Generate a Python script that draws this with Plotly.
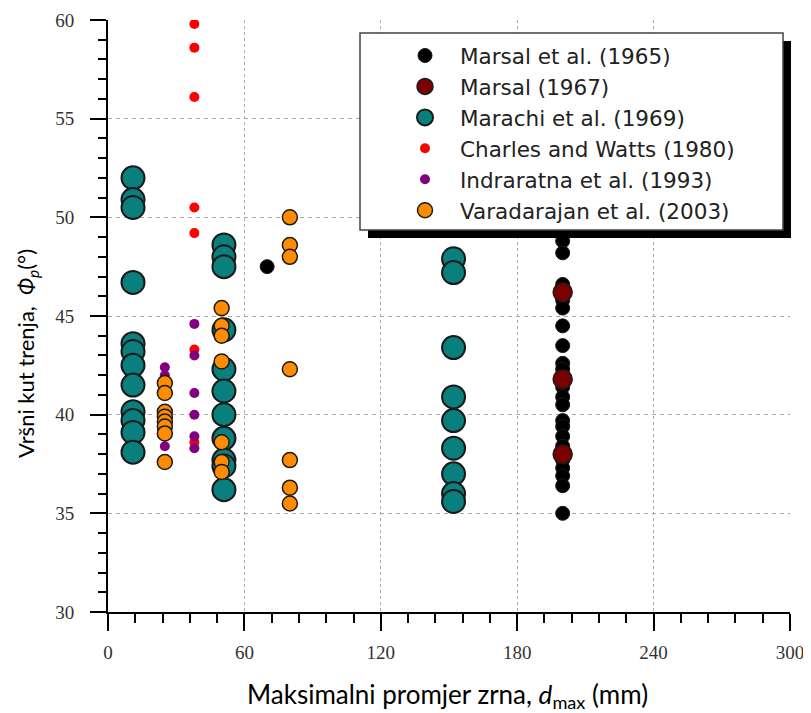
import plotly.graph_objects as go

# ---------------- data ----------------
marsal65_x = [70] + [200] * 21
marsal65_y = [47.5, 48.8, 48.2, 46.6, 45.8, 45.4, 44.5, 43.5, 42.6, 42.3, 41.4,
              40.9, 40.5, 39.7, 39.4, 38.9, 38.4, 37.7, 37.3, 36.9, 36.4, 35.0]

marsal67_x = [200, 200, 200]
marsal67_y = [46.2, 41.8, 38.0]

marachi_x = [11] * 12 + [51] * 11 + [152] * 9
marachi_y = [52.0, 50.9, 50.5, 46.7, 43.6, 43.2, 42.5, 41.5, 40.15, 39.7, 39.1, 38.1,
             48.6, 48.0, 47.5, 44.3, 42.3, 41.2, 40.0, 38.8, 37.7, 37.4, 36.2,
             47.9, 47.2, 43.4, 40.9, 39.7, 38.3, 37.0, 36.0, 35.6]

charles_x = [38] * 7
charles_y = [59.8, 58.6, 56.1, 50.5, 49.2, 43.3, 38.6]

indraratna_x = [38] * 6 + [25] * 3
indraratna_y = [44.6, 43.0, 41.1, 40.0, 38.9, 38.3, 42.4, 42.0, 38.4]

varadarajan_x = [25] * 8 + [50] * 7 + [80] * 7
varadarajan_y = [41.6, 41.1, 40.15, 39.9, 39.65, 39.4, 39.05, 37.6,
                 45.4, 44.5, 44.0, 42.7, 38.6, 37.6, 37.1,
                 50.0, 48.6, 48.0, 42.3, 37.7, 36.3, 35.5]

series_names = ["Marsal et al. (1965)", "Marsal (1967)", "Marachi et al. (1969)",
                "Charles and Watts (1980)", "Indraratna et al. (1993)",
                "Varadarajan et al. (2003)"]

x_ticks = [0, 60, 120, 180, 240, 300]
y_ticks = [30, 35, 40, 45, 50, 55, 60]

# ---------------- styling ----------------
OUT = "#1a1a1a"
styles = [
    dict(color="#000000", size=14, line=dict(color=OUT, width=1)),
    dict(color="#7b0000", size=19, line=dict(color=OUT, width=1.5)),
    dict(color="#0a807e", size=23, line=dict(color=OUT, width=2)),
    dict(color="#ff0000", size=10, line=dict(width=0)),
    dict(color="#800080", size=10, line=dict(width=0)),
    dict(color="#ff8c00", size=15, line=dict(color=OUT, width=1.5)),
]
xs = [marsal65_x, marsal67_x, marachi_x, charles_x, indraratna_x, varadarajan_x]
ys = [marsal65_y, marsal67_y, marachi_y, charles_y, indraratna_y, varadarajan_y]

fig = go.Figure()
for name, x, y, st in zip(series_names, xs, ys, styles):
    fig.add_trace(go.Scatter(x=x, y=y, mode="markers", name=name,
                             marker=dict(symbol="circle", **st)))

# page body has an 8px default margin -> work in screen pixels, subtract offset
OFF = 8
W, H = 811 - OFF, 713 - OFF
L, T = 108 - OFF, 20 - OFF
R = W - (790 - OFF)
B = H - (612 - OFF)
pw, ph = W - L - R, H - T - B


def px_x(p):
    return (p - OFF - L) / pw


def px_y(p):
    return (H - B - (p - OFF)) / ph


tickfont = dict(family="Liberation Serif", size=19, color="#333333")

common = dict(showline=True, linewidth=2, linecolor="black", zeroline=False,
              tickcolor="black", tickwidth=2)

fig.update_layout(
    width=W, height=H,
    margin=dict(l=L, r=R, t=T, b=B, autoexpand=False),
    paper_bgcolor="white", plot_bgcolor="white",
    showlegend=True,
    xaxis=dict(range=[0, 300], tickvals=x_ticks, ticks="outside", ticklen=17,
               tickfont=tickfont, ticklabelstandoff=5,
               showgrid=True, gridcolor="#a8a8a8", gridwidth=1, griddash="dot",
               minor=dict(dtick=12, tick0=0, ticks="outside", ticklen=9,
                          tickwidth=2, tickcolor="black", showgrid=False),
               **common),
    yaxis=dict(range=[30, 60], tickvals=y_ticks, ticks="outside", ticklen=16,
               tickfont=tickfont, ticklabelstandoff=12,
               showgrid=True, gridcolor="#a8a8a8", gridwidth=1, griddash="4px,4px",
               minor=dict(dtick=1, tick0=30, ticks="outside", ticklen=8,
                          tickwidth=2, tickcolor="black", showgrid=False),
               **common),
    xaxis2=dict(range=[0, 300], overlaying="x", side="top", anchor="y",
                tickvals=x_ticks, ticks="inside", ticklen=15, showticklabels=False,
                showgrid=False,
                minor=dict(dtick=12, tick0=0, ticks="inside", ticklen=8,
                           tickwidth=2, tickcolor="black", showgrid=False),
                **common),
    yaxis2=dict(range=[30, 60], overlaying="y", side="right", anchor="x",
                tickvals=y_ticks, ticks="inside", ticklen=15, showticklabels=False,
                showgrid=False,
                minor=dict(dtick=1, tick0=30, ticks="inside", ticklen=8,
                           tickwidth=2, tickcolor="black", showgrid=False),
                **common),
    legend=dict(x=px_x(390), y=px_y(35), xanchor="left", yanchor="top",
                bgcolor="rgba(0,0,0,0)", borderwidth=0, itemwidth=60,
                font=dict(family="DejaVu Sans", size=21.5, color="#222222"),
                itemsizing="trace", traceorder="normal"),
    shapes=[
        dict(type="rect", xref="paper", yref="paper", layer="above",
             x0=px_x(368), x1=px_x(791), y0=px_y(238), y1=px_y(41),
             fillcolor="black", line=dict(width=0)),
        dict(type="rect", xref="paper", yref="paper", layer="above",
             x0=px_x(360), x1=px_x(783), y0=px_y(230), y1=px_y(33),
             fillcolor="white", line=dict(color="#444444", width=1.5)),
    ],
    annotations=[
        dict(text="Maksimalni promjer zrna, <i>d</i><sub>max</sub> (mm)",
             xref="paper", yref="paper", x=px_x(447), y=px_y(695),
             xanchor="center", yanchor="middle", showarrow=False,
             font=dict(family="Lato", size=26, color="black")),
        dict(text="Vršni kut trenja,  <i>Φ</i><sub><i>p</i></sub>(°)",
             xref="paper", yref="paper", x=px_x(27), y=px_y(354),
             xanchor="center", yanchor="middle", showarrow=False, textangle=-90,
             font=dict(family="Lato", size=22, color="black")),
    ],
)

fig.write_html("out.html")
